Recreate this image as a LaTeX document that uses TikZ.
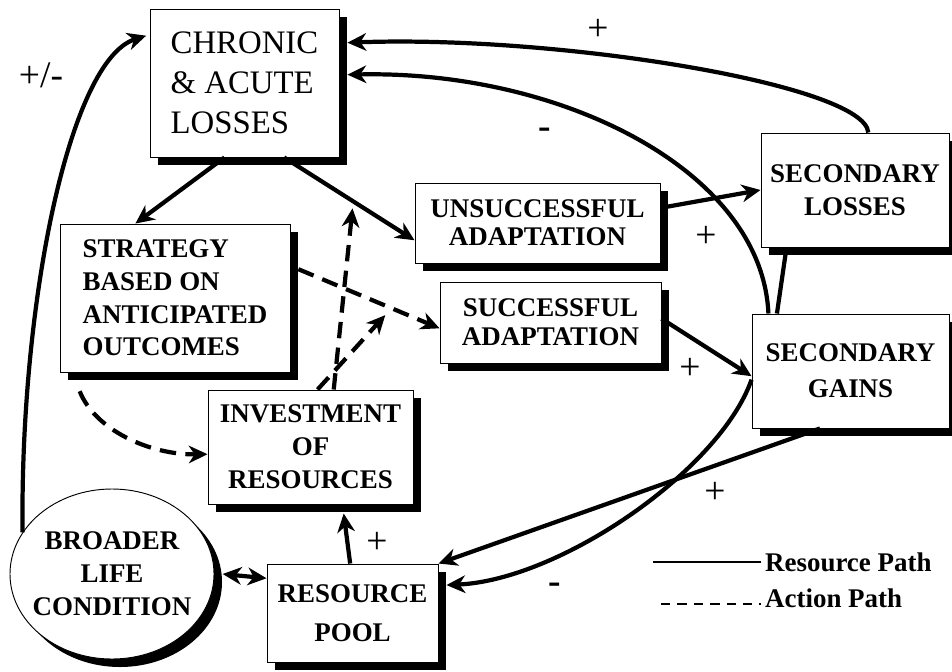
\documentclass[tikz,border=0pt]{standalone}
\usepackage{fontspec}
\setmainfont{Liberation Serif}
\usetikzlibrary{arrows.meta,shapes.geometric,shadows}

\begin{document}
\begin{tikzpicture}[x=0.03cm, y=-0.03cm,
    box/.style={draw, line width=0.8pt, fill=white, inner sep=2pt,
      drop shadow={shadow xshift=0.24cm, shadow yshift=-0.24cm, fill=black, opacity=1}},
    bigtext/.style={font=\fontsize{28}{34}\selectfont},
    boldtext/.style={font=\fontsize{23}{28}\selectfont\bfseries},
    tip/.style={-{Stealth[length=16pt,width=15pt,inset=5pt]}},
    res/.style={line width=3.6pt, tip},
    act/.style={res, dash pattern=on 14pt off 8pt},
    sign/.style={font=\fontsize{32}{36}\selectfont},
    minus/.style={font=\fontsize{32}{36}\selectfont\bfseries}]
                \useasboundingbox (0,0) rectangle (952,671);
                \node[box, bigtext, align=left, minimum width=5.67cm, minimum height=4.44cm] (chronic) at (244.5,83) {CHRONIC\\\& ACUTE\\LOSSES};
                \node[box, boldtext, align=left, minimum width=6.9cm, minimum height=4.44cm] (strategy) at (175,298) {STRATEGY\\BASED ON\\ANTICIPATED\\OUTCOMES};
                \node[box, boldtext, align=center, minimum width=7.35cm, minimum height=2.4cm] (unsucc) at (537.5,223) {UNSUCCESSFUL\\[-4pt]ADAPTATION};
                \node[box, boldtext, align=center, minimum width=6.63cm, minimum height=2.43cm] (succ) at (550.5,322.5) {SUCCESSFUL\\[-3pt]ADAPTATION};
                \node[box, boldtext, align=center, minimum width=5.64cm, minimum height=3.42cm] (seclos) at (855,190) {SECONDARY\\LOSSES};
                \node[box, boldtext, align=center, minimum width=5.91cm, minimum height=3.42cm] (secgain) at (850.5,371) {SECONDARY\\[3pt]GAINS};
                \node[box, boldtext, align=center, minimum width=6.15cm, minimum height=3.42cm] (invest) at (310.5,447) {INVESTMENT\\OF\\RESOURCES};
                \node[box, boldtext, align=center, minimum width=5.13cm, minimum height=2.94cm] (pool) at (352.5,613) {RESOURCE\\[5pt]POOL};
                \node[box, boldtext, ellipse, align=center, inner xsep=-7pt, inner ysep=0pt, minimum width=6.12cm, minimum height=5.1cm] (broader) at (112,574) {BROADER\\LIFE\\CONDITION};
                \node[sign] (plusminus) at (41,75) {+/-};
                \node[sign] (plustop) at (598,30) {+};
                \node[minus] (minustop) at (545,133) {-};
                \node[sign] (plusloss) at (706,237) {+};
                \node[sign] (plusgain) at (690,369) {+};
                \node[sign] (pluspool) at (715,493) {+};
                \node[minus] (minuspool) at (555,588) {-};
                \node[sign] (plusinvest) at (377,543) {+};
                \draw[res] (chronic.255) -- (strategy.118);
                \draw[res] (chronic.298) -- coordinate[pos=0.53] (hitA) (unsucc.188);
                \draw[res] (unsucc.7) -- (seclos.west);
                \draw[res] (succ.2) -- (secgain.183);
                \draw[res] (seclos.77) .. controls (865,85) and (560,35) .. ([xshift=6.8pt]chronic.23);
                \draw[res] (secgain.145) .. controls (762,170) and (560,70) .. ([xshift=6.8pt]chronic.5);
                \draw[line width=3.6pt] (seclos.220) -- (secgain.142);
                \draw[res] (secgain.242) -- (pool.north east);
                \draw[res] (secgain.185) .. controls (720,470) and (560,580) .. ([xshift=6.8pt]pool.18);
                \draw[res] ([xshift=-2pt]pool.north) -- ([yshift=-7.7pt]invest.300);
                \draw[res, {Stealth[length=16pt,width=15pt,inset=5pt]}-{Stealth[length=16pt,width=15pt,inset=5pt]}] ([xshift=7pt]broader.east) -- (pool.158);
                \draw[res, shorten >=3pt] (broader.155) .. controls (20,300) and (70,60) .. (chronic.153);
                \draw[act] ([yshift=-16pt]strategy.218) .. controls (95,430) and (150,455) .. (invest.184);
                \draw[act] ([xshift=6.8pt]strategy.14) -- coordinate[pos=0.66] (hitB) (succ.183);
                \draw[act, shorten >=6pt] (invest.68) -- (hitA);
                \draw[act, shorten >=8pt] (invest.83) -- (hitB);
                \node[boldtext, anchor=west] (legres) at (761,562) {Resource Path};
                \node[boldtext, anchor=west] (legact) at (761,598) {Action Path};
                \coordinate (legresstart) at (653,562);
                \coordinate (legactstart) at (661,604);
                \draw[line width=1.5pt] (legresstart) -- (legres.west);
                \draw[line width=2pt, dash pattern=on 8pt off 6pt] (legactstart) -- (legactstart -| legact.west);
            \end{tikzpicture}
\end{document}
